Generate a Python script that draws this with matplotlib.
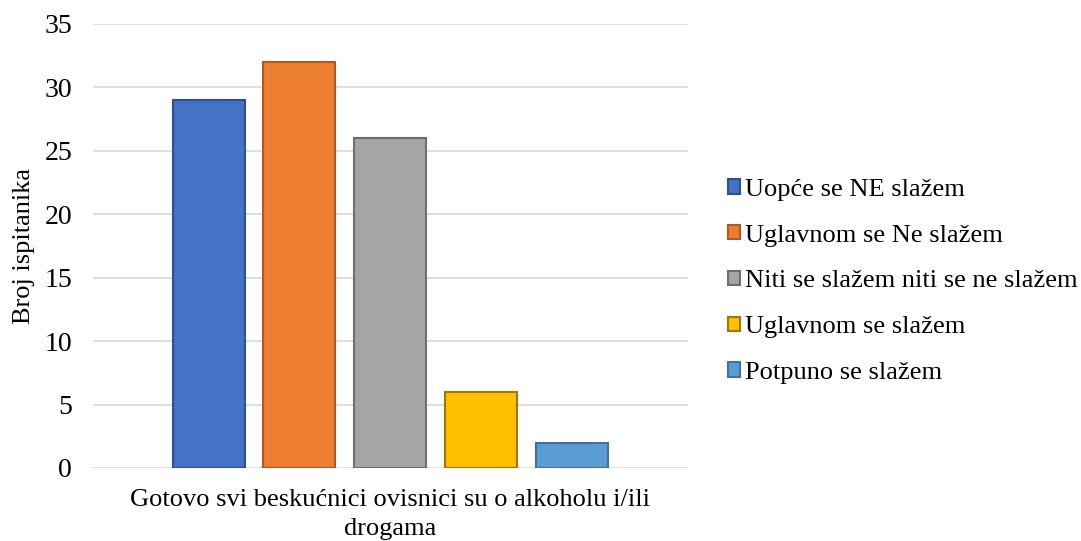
import matplotlib.pyplot as plt
import numpy as np

plt.rcParams['font.family'] = ['Liberation Serif', 'DejaVu Serif']

category = "Gotovo svi beskućnici ovisnici su o alkoholu i/ili\ndrogama"
labels = ["Uopće se NE slažem", "Uglavnom se Ne slažem",
          "Niti se slažem niti se ne slažem", "Uglavnom se slažem",
          "Potpuno se slažem"]
values = [29, 32, 26, 6, 2]
colors = ["#4472C4", "#ED7D31", "#A5A5A5", "#FFC000", "#5B9BD5"]
edges = ["#2F528F", "#AE5A21", "#6E6E6E", "#A07800", "#41719C"]

fig = plt.figure(figsize=(10.81, 5.41), dpi=100)
ax = fig.add_axes([0.086, 0.135, 0.55, 0.821])

step = 0.1528
width = 0.121
for i, (lab, v, c, e) in enumerate(zip(labels, values, colors, edges)):
    ax.bar((i - 2) * step, v, width=width, color=c, edgecolor=e,
           linewidth=1.5, label=lab, zorder=3)

ax.set_xlim(-0.5, 0.5)
ax.set_ylim(0, 35)
ax.set_yticks(range(0, 36, 5))
ax.set_xticks([0])
ax.set_xticklabels([category], fontsize=19, linespacing=1.45)
ax.tick_params(axis='both', length=0, labelsize=19)
ax.tick_params(axis='y', pad=15, labelsize=20)
ax.tick_params(axis='x', pad=15)
ax.grid(axis='y', color='#d9d9d9', linewidth=1.2, zorder=0)
for s in ax.spines.values():
    s.set_visible(False)
ax.set_ylabel("Broj ispitanika", fontsize=19, labelpad=7)

ax.legend(loc='center left', bbox_to_anchor=(1.028, 0.42), frameon=False,
          fontsize=19, handlelength=0.45, handleheight=0.45,
          handletextpad=0.2, labelspacing=0.9)

fig.savefig("out.png", dpi=100)
